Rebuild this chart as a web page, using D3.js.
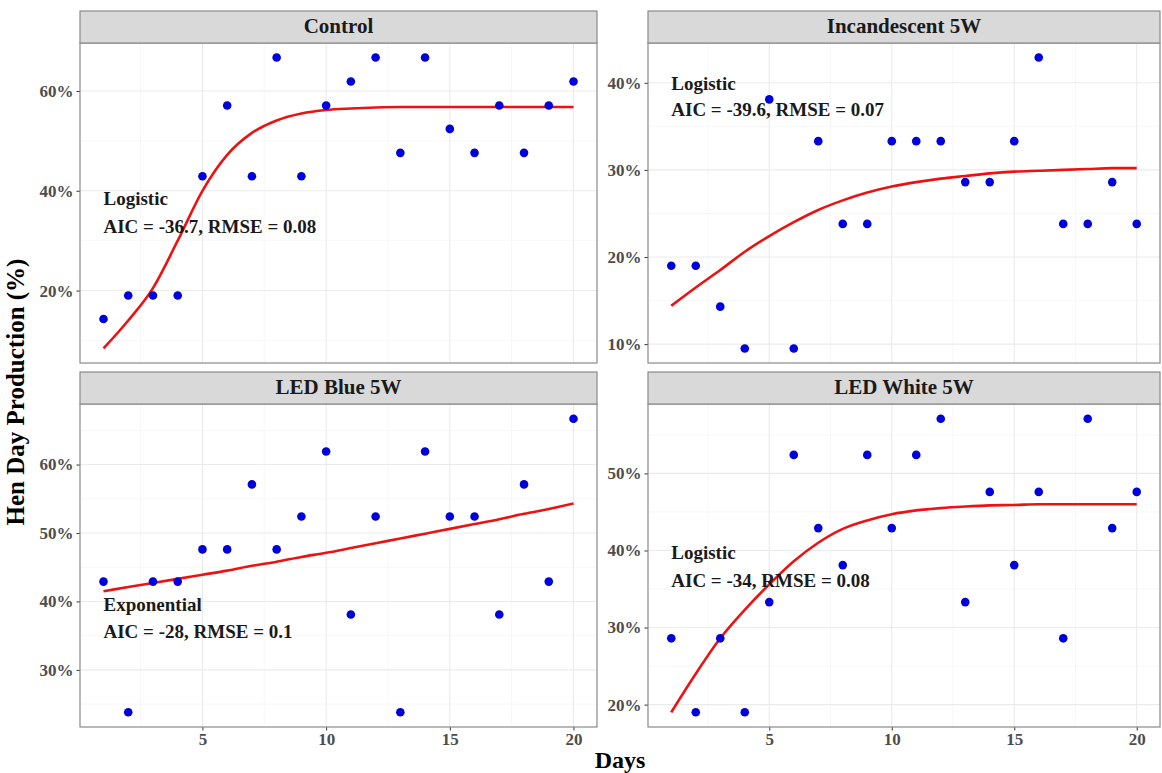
<!DOCTYPE html>
<html><head><meta charset="utf-8">
<script src="https://cdn.jsdelivr.net/npm/d3@7"></script>
<style>body{margin:0;background:#fff;} svg{display:block;}</style>
</head><body>
<svg id="chart" width="1162" height="773"></svg>
<script>
const days = d3.range(1, 21);
const panelNames = ["Control", "Incandescent 5W", "LED Blue 5W", "LED White 5W"];
const controlVals = [14.3,19.0,19.0,19.0,42.9,57.1,42.9,66.7,42.9,57.1,61.9,66.7,47.6,66.7,52.4,47.6,57.1,47.6,57.1,61.9];
const incandVals  = [19.0,19.0,14.3,9.5,38.1,9.5,33.3,23.8,23.8,33.3,33.3,33.3,28.6,28.6,33.3,42.9,23.8,23.8,28.6,23.8];
const blueVals    = [42.9,23.8,42.9,42.9,47.6,47.6,57.1,47.6,52.4,61.9,38.1,52.4,23.8,61.9,52.4,52.4,38.1,57.1,42.9,66.7];
const whiteVals   = [28.6,19.0,28.6,19.0,33.3,52.4,42.9,38.1,52.4,42.9,52.4,57.1,33.3,47.6,38.1,47.6,28.6,57.1,42.9,47.6];
const controlFit = [8.4,14.0,20.5,30.0,40.0,47.2,51.6,54.1,55.5,56.2,56.5,56.7,56.8,56.8,56.8,56.8,56.8,56.8,56.8,56.8];
const incandFit  = [14.4,16.5,18.5,20.6,22.4,24.0,25.4,26.5,27.4,28.1,28.6,29.0,29.3,29.6,29.8,29.9,30.0,30.1,30.2,30.2];
const blueFit    = [41.5,42.1,42.7,43.3,43.9,44.5,45.2,45.8,46.5,47.1,47.8,48.5,49.2,49.9,50.6,51.3,52.0,52.8,53.5,54.3];
const whiteFit   = [19.0,24.0,28.6,32.3,35.6,38.6,41.0,42.8,43.9,44.7,45.2,45.5,45.7,45.85,45.9,46.0,46.0,46.0,46.0,46.0];
const modelNames = ["Logistic", "Logistic", "Exponential", "Logistic"];
const statLabels = ["AIC = -36.7, RMSE = 0.08", "AIC = -39.6, RMSE = 0.07", "AIC = -28, RMSE = 0.1", "AIC = -34, RMSE = 0.08"];
const labelY = [[38.0, 32.5], [39.7, 36.7], [39.3, 35.3], [39.5, 35.8]];
const yTicks = [[20,40,60],[10,20,30,40],[30,40,50,60],[20,30,40,50]];
const xTicks = [5,10,15,20];

const allVals = [controlVals, incandVals, blueVals, whiteVals];
const allFits = [controlFit, incandFit, blueFit, whiteFit];

const svg = d3.select("#chart");
const font = "'Liberation Serif','Times New Roman',serif";
const cols = [[80, 597], [648, 1160]];
const rows = [{st: 11, top: 43, bottom: 363}, {st: 372, top: 404, bottom: 727}];

function expand(ext) { const r = ext[1]-ext[0]; return [ext[0]-0.05*r, ext[1]+0.05*r]; }
const xDom = expand([1, 20]);

panelNames.forEach((name, i) => {
  const c = cols[i % 2], r = rows[Math.floor(i / 2)];
  const vals = allVals[i], fit = allFits[i];
  const x = d3.scaleLinear().domain(xDom).range([c[0], c[1]]);
  const y = d3.scaleLinear().domain(expand(d3.extent(vals.concat(fit)))).range([r.bottom, r.top]);
  const g = svg.append("g");
  const W = c[1]-c[0], H = r.bottom - r.top;
  // minor grid
  const yt = yTicks[i];
  const step = yt[1]-yt[0];
  const yMinor = [];
  for (let v = yt[0]-step*1.5; v <= yt[yt.length-1]+step*1.5; v += step) {
    if (v >= y.domain()[0] && v <= y.domain()[1]) yMinor.push(v);
  }
  g.selectAll(".ymin").data(yMinor).enter().append("line")
    .attr("x1", c[0]).attr("x2", c[1]).attr("y1", d=>y(d)).attr("y2", d=>y(d))
    .attr("stroke", "#f2f2f2").attr("stroke-width", 0.6);
  const xMinor = [2.5, 7.5, 12.5, 17.5];
  g.selectAll(".xmin").data(xMinor).enter().append("line")
    .attr("y1", r.top).attr("y2", r.bottom).attr("x1", d=>x(d)).attr("x2", d=>x(d))
    .attr("stroke", "#f2f2f2").attr("stroke-width", 0.6);
  // major grid
  g.selectAll(".ymaj").data(yt).enter().append("line")
    .attr("x1", c[0]).attr("x2", c[1]).attr("y1", d=>y(d)).attr("y2", d=>y(d))
    .attr("stroke", "#ebebeb").attr("stroke-width", 1.1);
  g.selectAll(".xmaj").data(xTicks).enter().append("line")
    .attr("y1", r.top).attr("y2", r.bottom).attr("x1", d=>x(d)).attr("x2", d=>x(d))
    .attr("stroke", "#ebebeb").attr("stroke-width", 1.1);

  // fit line
  const line = d3.line().x((d, k) => x(days[k])).y(d => y(d)).curve(d3.curveMonotoneX);
  g.append("path").datum(fit).attr("d", line).attr("fill", "none")
    .attr("stroke", "#ee1111").attr("stroke-width", 2.6);

  // points
  g.selectAll(".pt").data(vals).enter().append("circle")
    .attr("cx", (d, k) => x(days[k])).attr("cy", d => y(d)).attr("r", 4.3)
    .attr("fill", "#0000dd");

  // labels
  g.append("text").attr("x", x(1)).attr("y", y(labelY[i][0])).text(modelNames[i])
    .attr("font-family", font).attr("font-weight", "bold").attr("font-size", 19)
    .attr("fill", "#1a1a1a").attr("dominant-baseline", "middle");
  g.append("text").attr("x", x(1)).attr("y", y(labelY[i][1])).text(statLabels[i])
    .attr("font-family", font).attr("font-weight", "bold").attr("font-size", 19)
    .attr("fill", "#1a1a1a").attr("dominant-baseline", "middle");

  // y axis
  const ya = d3.axisLeft(y).tickValues(yt).tickSize(3.5).tickPadding(3).tickFormat(d => d + "%");
  const yg = svg.append("g").attr("transform", `translate(${c[0]},0)`).call(ya);
  yg.select(".domain").remove();
  yg.selectAll("line").attr("stroke", "#333");
  yg.selectAll("text").attr("font-family", font).attr("font-weight", "bold")
    .attr("font-size", 17).attr("fill", "#4d4d4d");

  // x axis (bottom row)
  if (Math.floor(i / 2) === 1) {
    const xa = d3.axisBottom(x).tickValues(xTicks).tickSize(3.5).tickPadding(2);
    const xg = svg.append("g").attr("transform", `translate(0,${r.bottom})`).call(xa);
    xg.select(".domain").remove();
    xg.selectAll("line").attr("stroke", "#333");
    xg.selectAll("text").attr("font-family", font).attr("font-weight", "bold")
      .attr("font-size", 17).attr("fill", "#4d4d4d");
  }

  // panel border
  svg.append("rect").attr("x", c[0]).attr("y", r.top).attr("width", W).attr("height", H)
    .attr("fill", "none").attr("stroke", "#8a8a8a").attr("stroke-width", 1.2);
  // strip
  svg.append("rect").attr("x", c[0]).attr("y", r.st).attr("width", W).attr("height", r.top - r.st)
    .attr("fill", "#d9d9d9").attr("stroke", "#8a8a8a").attr("stroke-width", 1.2);
  svg.append("text").attr("x", (c[0]+c[1])/2).attr("y", (r.st + r.top)/2 + 1)
    .attr("text-anchor", "middle").attr("dominant-baseline", "middle")
    .attr("font-family", font).attr("font-weight", "bold").attr("font-size", 21)
    .attr("fill", "#1a1a1a").text(name);
});

svg.append("text").attr("x", 620).attr("y", 762).attr("text-anchor", "middle")
  .attr("dominant-baseline", "middle").attr("font-family", font).attr("font-weight", "bold")
  .attr("font-size", 24).attr("fill", "#000").text("Days");
svg.append("text").attr("transform", "translate(18,392) rotate(-90)").attr("text-anchor", "middle")
  .attr("dominant-baseline", "middle").attr("font-family", font).attr("font-weight", "bold")
  .attr("font-size", 25).attr("fill", "#000").text("Hen Day Production (%)");
</script>
</body></html>
